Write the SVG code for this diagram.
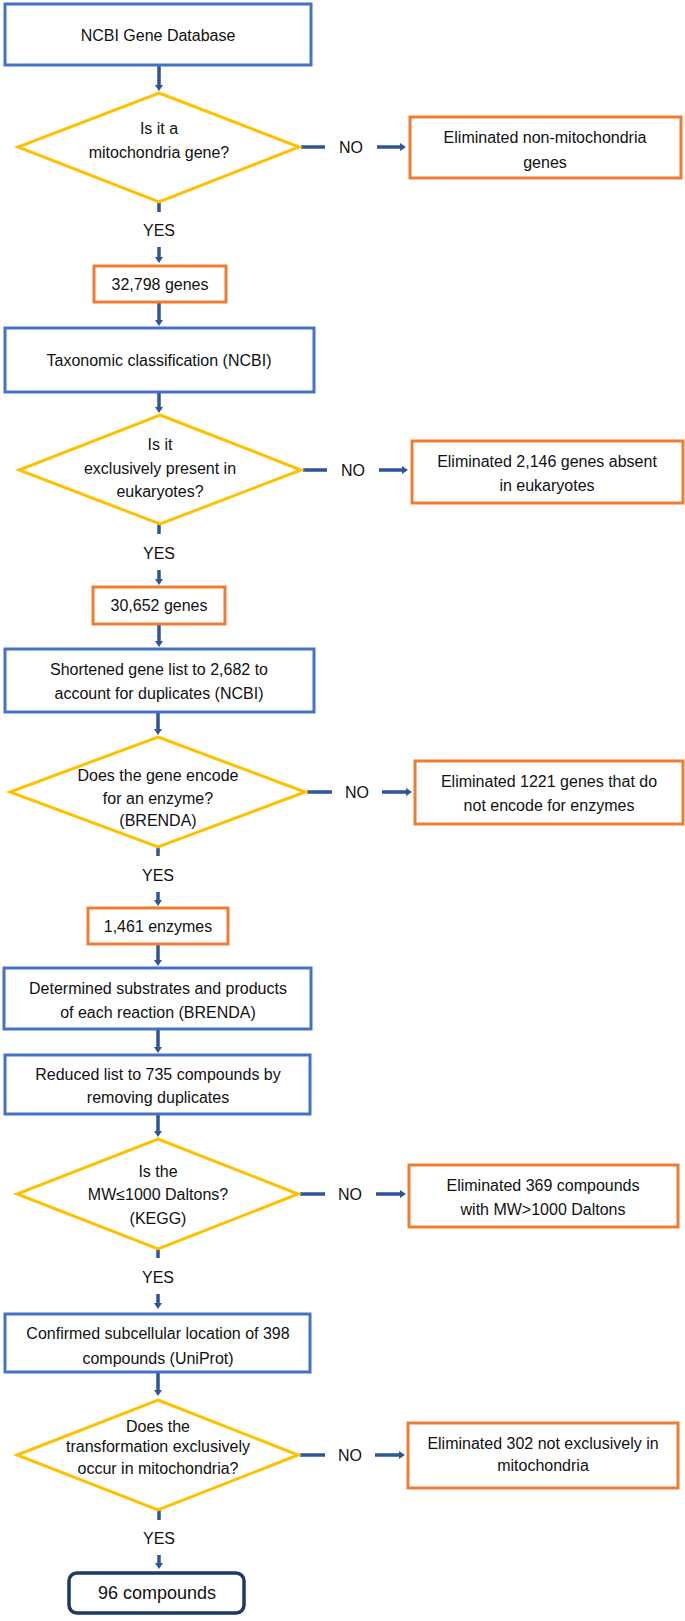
<svg xmlns="http://www.w3.org/2000/svg" width="685" height="1621" viewBox="0 0 685 1621">
<style>
text{font-family:"Liberation Sans",Arial,sans-serif;font-size:16px;fill:#111;text-anchor:middle;dominant-baseline:central}
.blue{fill:#fff;stroke:#4472C4;stroke-width:3}
.orange{fill:#fff;stroke:#ED7D31;stroke-width:3}
.dia{fill:#fff;stroke:#FFC000;stroke-width:3}
.final{fill:#fff;stroke:#1F3864;stroke-width:3.5}
.c{stroke:#2F5597;stroke-width:3.5;fill:none}
.a{marker-end:url(#ah)}
</style>
<defs>
<marker id="ah" viewBox="0 0 6 8" refX="2" refY="4" markerWidth="6" markerHeight="8" markerUnits="userSpaceOnUse" orient="auto">
<path d="M0,0 L6,4 L0,8 Z" fill="#2F5597"/>
</marker>
</defs>
<rect width="685" height="1621" fill="#fff"/>

<g id="connectors">
<line class="c a" x1="159" y1="66" x2="159" y2="87"/>
<line class="c" x1="301" y1="147" x2="325" y2="147"/>
<text x="351" y="147">NO</text>
<line class="c a" x1="377" y1="147" x2="402" y2="147"/>
<line class="c" x1="159" y1="202" x2="159" y2="212"/>
<text x="159" y="230">YES</text>
<line class="c a" x1="159" y1="247" x2="159" y2="259"/>
<line class="c a" x1="159" y1="302" x2="159" y2="322"/>

<line class="c a" x1="159" y1="392" x2="159" y2="409"/>
<line class="c" x1="303" y1="470" x2="327" y2="470"/>
<text x="353" y="470">NO</text>
<line class="c a" x1="379" y1="470" x2="404" y2="470"/>
<line class="c" x1="159" y1="524" x2="159" y2="534"/>
<text x="159" y="553">YES</text>
<line class="c a" x1="159" y1="570" x2="159" y2="581"/>
<line class="c a" x1="159" y1="624" x2="159" y2="643"/>

<line class="c a" x1="158" y1="712" x2="158" y2="731"/>
<line class="c" x1="307" y1="792" x2="332" y2="792"/>
<text x="357" y="792">NO</text>
<line class="c a" x1="382" y1="792" x2="408" y2="792"/>
<line class="c" x1="158" y1="847" x2="158" y2="856"/>
<text x="158" y="875">YES</text>
<line class="c a" x1="158" y1="892" x2="158" y2="902"/>
<line class="c a" x1="158" y1="944" x2="158" y2="962"/>

<line class="c a" x1="158" y1="1029" x2="158" y2="1049"/>
<line class="c a" x1="158" y1="1114" x2="158" y2="1133"/>
<line class="c" x1="300" y1="1194" x2="325" y2="1194"/>
<text x="350" y="1194">NO</text>
<line class="c a" x1="376" y1="1194" x2="402" y2="1194"/>
<line class="c" x1="158" y1="1249" x2="158" y2="1258"/>
<text x="158" y="1277">YES</text>
<line class="c a" x1="158" y1="1294" x2="158" y2="1305"/>

<line class="c a" x1="158" y1="1372" x2="158" y2="1392"/>
<line class="c" x1="300" y1="1455" x2="325" y2="1455"/>
<text x="350" y="1455">NO</text>
<line class="c a" x1="375" y1="1455" x2="401" y2="1455"/>
<line class="c" x1="159" y1="1510" x2="159" y2="1520"/>
<text x="159" y="1538">YES</text>
<line class="c a" x1="159" y1="1555" x2="159" y2="1565"/>
</g>

<g id="n1"><rect class="blue" x="5" y="4" width="306" height="61"/><text x="158" y="35">NCBI Gene Database</text></g>
<g id="d1"><polygon class="dia" points="159,93 299,147 159,202 18,147"/><text x="159" y="128">Is it a</text><text x="159" y="152">mitochondria gene?</text></g>
<g id="e1"><rect class="orange" x="410" y="117" width="271" height="61"/><text x="545" y="137">Eliminated non-mitochondria</text><text x="545" y="162">genes</text></g>
<g id="r1"><rect class="orange" x="94" y="266" width="132" height="36"/><text x="160" y="284">32,798 genes</text></g>

<g id="n2"><rect class="blue" x="5" y="328" width="309" height="64"/><text x="159" y="360">Taxonomic classification (NCBI)</text></g>
<g id="d2"><polygon class="dia" points="160,415 301,470 160,524 19,470"/><text x="160" y="444">Is it</text><text x="160" y="468">exclusively present in</text><text x="160" y="491">eukaryotes?</text></g>
<g id="e2"><rect class="orange" x="412" y="441" width="271" height="62"/><text x="547" y="461">Eliminated 2,146 genes absent</text><text x="547" y="485">in eukaryotes</text></g>
<g id="r2"><rect class="orange" x="93" y="587" width="132" height="37"/><text x="159" y="605">30,652 genes</text></g>

<g id="n3"><rect class="blue" x="5" y="649" width="309" height="63"/><text x="159" y="669">Shortened gene list to 2,682 to</text><text x="159" y="693">account for duplicates (NCBI)</text></g>
<g id="d3"><polygon class="dia" points="158,737 305,792 158,847 10,792"/><text x="158" y="775">Does the gene encode</text><text x="158" y="798">for an enzyme?</text><text x="158" y="820">(BRENDA)</text></g>
<g id="e3"><rect class="orange" x="415" y="761" width="268" height="63"/><text x="549" y="781">Eliminated 1221 genes that do</text><text x="549" y="805">not encode for enzymes</text></g>
<g id="r3"><rect class="orange" x="88" y="908" width="140" height="36"/><text x="158" y="926">1,461 enzymes</text></g>

<g id="n4"><rect class="blue" x="4" y="968" width="307" height="61"/><text x="158" y="988">Determined substrates and products</text><text x="158" y="1012">of each reaction (BRENDA)</text></g>
<g id="n5"><rect class="blue" x="5" y="1055" width="305" height="59"/><text x="158" y="1074">Reduced list to 735 compounds by</text><text x="158" y="1097">removing duplicates</text></g>
<g id="d4"><polygon class="dia" points="158,1139 298,1194 158,1249 17,1194"/><text x="158" y="1171">Is the</text><text x="158" y="1194">MW≤1000 Daltons?</text><text x="158" y="1218">(KEGG)</text></g>
<g id="e4"><rect class="orange" x="409" y="1165" width="269" height="62"/><text x="543" y="1185">Eliminated 369 compounds</text><text x="543" y="1209">with MW&gt;1000 Daltons</text></g>

<g id="n6"><rect class="blue" x="5" y="1314" width="305" height="58"/><text x="158" y="1333">Confirmed subcellular location of 398</text><text x="158" y="1358">compounds (UniProt)</text></g>
<g id="d5"><polygon class="dia" points="158,1400 298,1455 158,1510 17,1455"/><text x="158" y="1426">Does the</text><text x="158" y="1446">transformation exclusively</text><text x="158" y="1468">occur in mitochondria?</text></g>
<g id="e5"><rect class="orange" x="408" y="1423" width="270" height="65"/><text x="543" y="1443">Eliminated 302 not exclusively in</text><text x="543" y="1465">mitochondria</text></g>
<g id="f"><rect class="final" x="69" y="1573" width="175" height="40" rx="8"/><text x="157" y="1593" style="font-size:18px">96 compounds</text></g>
</svg>
